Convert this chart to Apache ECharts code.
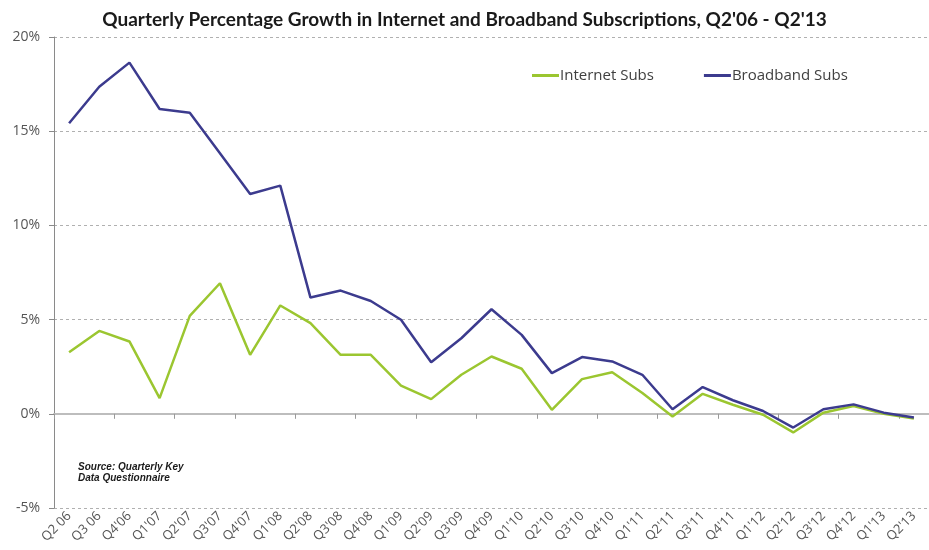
<!DOCTYPE html>
<html><head><meta charset="utf-8">
<script src="https://cdn.jsdelivr.net/npm/echarts@6/dist/echarts.min.js"></script>
<style>html,body{margin:0;padding:0;background:#fff}#c{width:929px;height:550px}</style>
</head><body><div id="c"></div>
<script>
const categories = ["Q2 06","Q3 06","Q4'06","Q1'07","Q2'07","Q3'07","Q4'07","Q1'08","Q2'08","Q3'08","Q4'08","Q1'09","Q2'09","Q3'09","Q4'09","Q1'10","Q2'10","Q3'10","Q4'10","Q1'11","Q2'11","Q3'11","Q4'11","Q1'12","Q2'12","Q3'12","Q4'12","Q1'13","Q2'13"];
const internetSubs = [3.27,4.40,3.84,0.83,5.20,6.93,3.13,5.75,4.81,3.13,3.13,1.50,0.78,2.07,3.04,2.39,0.21,1.84,2.21,1.10,-0.14,1.06,0.48,-0.05,-0.99,0.06,0.41,0.00,-0.25];
const broadbandSubs = [15.42,17.36,18.64,16.18,15.98,13.83,11.67,12.11,6.17,6.54,5.99,4.99,2.74,4.01,5.55,4.19,2.16,3.01,2.78,2.07,0.24,1.42,0.72,0.15,-0.73,0.24,0.50,0.06,-0.20];
const yTicks = {min: -5, max: 20, interval: 5};
const titleText = "Quarterly Percentage Growth in Internet and Broadband Subscriptions, Q2'06 - Q2'13";
const sourceText = "Source: Quarterly Key\nData Questionnaire";

const chart = echarts.init(document.getElementById('c'), null, {renderer: 'canvas'});
chart.setOption({
  animation: false,
  backgroundColor: '#fff',
  title: {
    text: titleText, left: 'center', top: 5,
    textStyle: {fontFamily: 'Lato', fontWeight: 'bold', fontSize: 19, color: '#1a1a1a'}
  },
  legend: {
    left: 527, top: 63, itemGap: 50, itemWidth: 27, itemHeight: 3, icon: 'rect',
    textStyle: {fontFamily: 'Open Sans', fontSize: 15, color: '#404040', padding: [0,0,0,-4]},
    data: ['Internet Subs', 'Broadband Subs']
  },
  graphic: [{
    type: 'text', left: 78, top: 462,
    style: {text: sourceText, font: 'italic bold 10px "Liberation Sans"', fill: '#1a1a1a', lineHeight: 11}
  }],
  grid: {left: 54, right: -10, top: 37, bottom: 42},
  xAxis: [{
    type: 'category', data: categories, boundaryGap: true,
    axisLine: {onZero: true, lineStyle: {color: '#bdbdbd', width: 2}},
    axisTick: {show: true, length: 5, lineStyle: {color: '#9a9a9a'}},
    axisLabel: {show: false}, splitLine: {show: false}
  }, {
    type: 'category', data: categories, boundaryGap: true, position: 'bottom',
    axisLine: {show: false, onZero: false}, axisTick: {show: false},
    axisLabel: {rotate: 45, margin: 6, interval: 0, fontFamily: 'Open Sans', fontSize: 13, color: '#555'}
  }],
  yAxis: {
    type: 'value', min: yTicks.min, max: yTicks.max, interval: yTicks.interval,
    axisLine: {show: true, lineStyle: {color: '#8a8a8a', width: 1}},
    axisTick: {show: true, length: 5, lineStyle: {color: '#8a8a8a'}},
    axisLabel: {formatter: '{value}%', fontFamily: 'Open Sans', fontSize: 14, color: '#555', margin: 14},
    splitLine: {show: true, lineStyle: {color: '#b0b0b0', type: [3, 3], width: 1}}
  },
  series: [{
    name: 'Internet Subs', type: 'line', data: internetSubs, xAxisIndex: 0,
    symbol: 'none', lineStyle: {color: '#9bc630', width: 2.5}, itemStyle: {color: '#9bc630'}
  }, {
    name: 'Broadband Subs', type: 'line', data: broadbandSubs, xAxisIndex: 0,
    symbol: 'none', lineStyle: {color: '#3c3b8e', width: 2.5}, itemStyle: {color: '#3c3b8e'}
  }]
});
</script></body></html>
